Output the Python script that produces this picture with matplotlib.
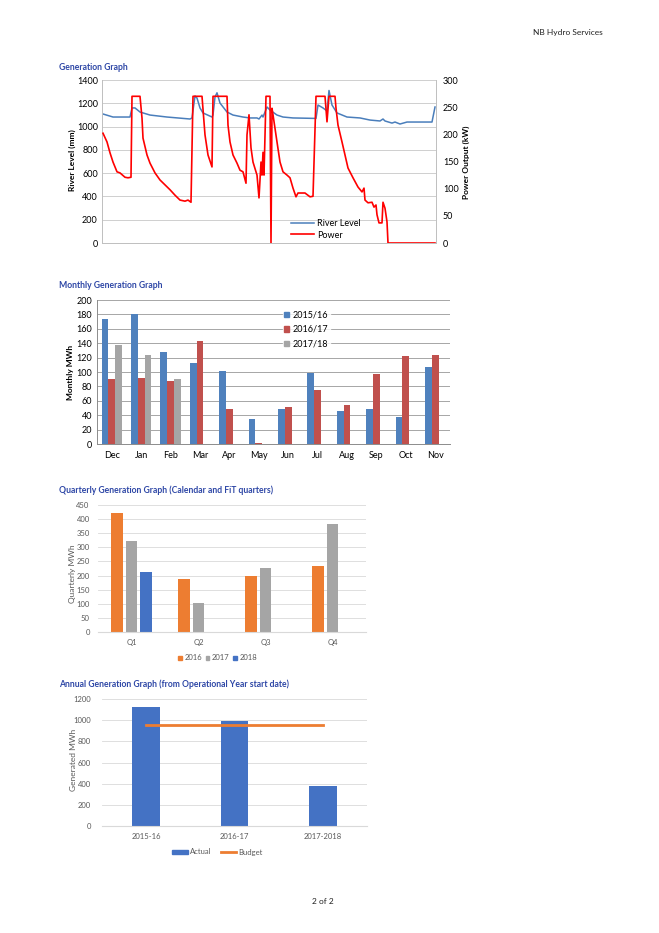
import matplotlib
matplotlib.use('Agg')
import matplotlib.pyplot as plt
import numpy as np
from matplotlib.patches import Patch
from matplotlib.lines import Line2D

W, H = 659, 933
plt.rcParams['font.family'] = ['Lato', 'DejaVu Sans']

# ---------------- data ----------------
# Generation graph (day index, values)
power_day = [1, 5, 8, 11, 15, 18, 23, 26, 29, 30, 38, 40, 41, 45, 48, 53, 58, 63, 68, 73,
             78, 83, 86, 89, 91, 100, 103, 106, 110, 111, 125, 126, 128, 131, 135, 138, 141,
             144, 145, 147, 149, 151, 155, 157, 159, 160, 161, 162, 164, 168, 169, 170, 171,
             175, 178, 181, 185, 188, 191, 194, 196, 203, 208, 211, 214, 223, 225, 227, 233,
             234, 236, 240, 243, 246, 251, 256, 260, 262, 263, 266, 270, 272, 274, 275, 277,
             280, 281, 283, 285, 286, 333]
power_kw = [202, 186, 166, 149, 131, 129, 121, 120, 121, 270, 270, 230, 193, 162, 147, 129,
            116, 107, 98, 88, 79, 77, 79, 75, 270, 270, 199, 162, 140, 270, 270, 217, 186,
            162, 147, 134, 131, 110, 199, 236, 175, 149, 125, 83, 149, 125, 167, 125, 270,
            270, 0, 248, 236, 186, 149, 131, 125, 120, 101, 85, 92, 92, 85, 86, 270, 270, 223,
            270, 270, 248, 217, 186, 162, 138, 120, 103, 94, 101, 79, 74, 75, 66, 70, 52, 37,
            37, 75, 64, 39, 0, 0]
river_day = [1, 11, 28, 30, 33, 38, 48, 65, 88, 90, 93, 95, 98, 101, 110, 111, 113, 115, 118,
             125, 131, 141, 148, 155, 157, 160, 161, 165, 168, 175, 181, 191, 214, 216, 221,
             225, 227, 230, 235, 245, 258, 268, 278, 281, 283, 290, 293, 298, 305, 318, 330, 333]
river_mm = [1108, 1082, 1082, 1160, 1160, 1125, 1099, 1082, 1065, 1074, 1263, 1245, 1160,
            1117, 1082, 1100, 1254, 1290, 1202, 1125, 1099, 1082, 1074, 1074, 1065, 1099,
            1082, 1168, 1142, 1099, 1082, 1074, 1070, 1185, 1160, 1134, 1310, 1185, 1117,
            1082, 1074, 1056, 1048, 1065, 1048, 1030, 1039, 1022, 1039, 1039, 1039, 1168]

# Monthly generation
months = ['Dec', 'Jan', 'Feb', 'Mar', 'Apr', 'May', 'Jun', 'Jul', 'Aug', 'Sep', 'Oct', 'Nov']
m_2015 = [174, 180, 128, 113, 102, 35, 49, 98, 46, 48, 37, 107]
m_2016 = [90, 91, 88, 143, 49, 2, 51, 75, 54, 97, 122, 124]
m_2017 = [137, 123, 90, np.nan, np.nan, np.nan, np.nan, np.nan, np.nan, np.nan, np.nan, np.nan]

# Quarterly generation
quarters = ['Q1', 'Q2', 'Q3', 'Q4']
q_2016 = [420, 188, 200, 234]
q_2017 = [321, 102, 226, 381]
q_2018 = [213, np.nan, np.nan, np.nan]

# Annual generation
years = ['2015-16', '2016-17', '2017-2018']
actual = [1120, 990, 374]
budget = [957, 957, 957]

# ---------------- figure ----------------
fig = plt.figure(figsize=(W/100, H/100), dpi=100)
fig.patch.set_facecolor('white')

def px_axes(x0, x1, y0, y1):
    return fig.add_axes([x0/W, 1 - y1/H, (x1-x0)/W, (y1-y0)/H])

def ftext(x, y, s, **kw):
    fig.text(x/W, 1 - y/H, s, **kw)

TITLE_C = '#2E47A6'
ftext(603, 32, 'NB Hydro Services', ha='right', va='center', fontsize=6, color='#222222')
ftext(323, 902, '2 of 2', ha='center', va='center', fontsize=6, color='#222222')

# ---- Chart 1: Generation Graph ----
ftext(59, 67, 'Generation Graph', ha='left', va='center', fontsize=6.2,
      fontweight='bold', color=TITLE_C)
ax1 = px_axes(102, 436, 80, 243)
ax1.set_xlim(0, 334)
ax1.set_ylim(0, 1400)
ax1.set_yticks(np.arange(0, 1401, 200))
ax1.set_xticks([])
ax1.yaxis.grid(True, color='#C8C8C8', lw=0.6)
ax1.set_axisbelow(True)
ax1.plot(river_day, river_mm, color='#4A7EBB', lw=1.1)
for s in ['left', 'right', 'bottom']:
    ax1.spines[s].set_color('#BFBFBF')
    ax1.spines[s].set_linewidth(0.7)
ax1.spines['top'].set_visible(False)
ax1.tick_params(axis='y', length=0, labelsize=6.5, pad=3)
ax2 = ax1.twinx()
ax2.set_ylim(0, 300)
ax2.set_yticks(np.arange(0, 301, 50))
ax2.plot(power_day, power_kw, color='#FF0000', lw=1.2)
for s in ['left', 'right', 'bottom', 'top']:
    ax2.spines[s].set_visible(False)
ax2.tick_params(axis='y', length=0, labelsize=6.5, pad=5)
ftext(72, 160, 'River Level (mm)', rotation=90, ha='center', va='center',
      fontsize=6, fontweight='bold')
ftext(466, 162, 'Power Output (kW)', rotation=90, ha='center', va='center',
      fontsize=6, fontweight='bold')
fig.legend(handles=[Line2D([], [], color='#4A7EBB', lw=1.1),
                    Line2D([], [], color='#FF0000', lw=1.2)],
           labels=['River Level', 'Power'], loc='center left',
           bbox_to_anchor=(286/W, 1 - 229.5/H), frameon=False, fontsize=6.5,
           handlelength=2.6, labelspacing=0.25, handletextpad=0.3, borderpad=0)

# ---- Chart 2: Monthly Generation Graph ----
ftext(59, 285, 'Monthly Generation Graph', ha='left', va='center', fontsize=6.2,
      fontweight='bold', color=TITLE_C)
axm = px_axes(97, 450, 300, 444)
x = np.arange(len(months))
bw = 0.23
c1, c2, c3 = '#4F81BD', '#C0504D', '#A5A5A5'
axm.bar(x - bw, m_2015, bw, color=c1, label='2015/16')
axm.bar(x, m_2016, bw, color=c2, label='2016/17')
axm.bar(x + bw, m_2017, bw, color=c3, label='2017/18')
axm.set_xlim(-0.5, 11.5)
axm.set_ylim(0, 200)
axm.set_yticks(np.arange(0, 201, 20))
axm.set_xticks(x)
axm.set_xticklabels(months)
axm.yaxis.grid(True, color='#A6A6A6', lw=0.7)
axm.set_axisbelow(True)
for s in ['top', 'right']:
    axm.spines[s].set_visible(False)
for s in ['left', 'bottom']:
    axm.spines[s].set_color('#8C8C8C')
    axm.spines[s].set_linewidth(0.7)
axm.tick_params(axis='both', length=0, labelsize=6.5)
axm.tick_params(axis='x', pad=5)
ftext(70, 372, 'Monthly MWh', rotation=90, ha='center', va='center',
      fontsize=6, fontweight='bold')
leg = fig.legend(handles=[Patch(color=c1), Patch(color=c2), Patch(color=c3)],
                 labels=['2015/16', '2016/17', '2017/18'], loc='center left',
                 bbox_to_anchor=(278/W, 1 - 329.5/H), frameon=True, fontsize=6.5,
                 handlelength=0.55, handleheight=0.55, labelspacing=0.6,
                 handletextpad=0.35, borderpad=0.2, fancybox=False)
leg.get_frame().set_facecolor('white')
leg.get_frame().set_edgecolor('white')

# ---- Chart 3: Quarterly Generation Graph ----
ftext(59, 490.5, 'Quarterly Generation Graph (Calendar and FiT quarters)', ha='left',
      va='center', fontsize=6.2, fontweight='bold', color=TITLE_C)
axq = px_axes(98, 366, 505, 632)
xq = np.arange(len(quarters))
qw = 0.173
qs = 0.218
o1, o2, o3 = '#ED7D31', '#A5A5A5', '#4472C4'
axq.bar(xq - qs, q_2016, qw, color=o1)
axq.bar(xq, q_2017, qw, color=o2)
axq.bar(xq + qs, q_2018, qw, color=o3)
axq.set_xlim(-0.5, 3.5)
axq.set_ylim(0, 450)
axq.set_yticks(np.arange(0, 451, 50))
axq.set_xticks(xq)
axq.set_xticklabels(quarters)
axq.yaxis.grid(True, color='#D9D9D9', lw=0.6)
axq.set_axisbelow(True)
for s in ['top', 'right', 'left']:
    axq.spines[s].set_visible(False)
axq.spines['bottom'].set_color('#D9D9D9')
axq.tick_params(axis='both', length=0, labelsize=5.5, labelcolor='#595959')
axq.tick_params(axis='x', pad=5)
axq.tick_params(axis='y', pad=6)
ftext(72, 574, 'Quarterly MWh', rotation=90, ha='center', va='center',
      fontsize=6, color='#595959')
fig.legend(handles=[Patch(color=o1), Patch(color=o2), Patch(color=o3)],
           labels=['2016', '2017', '2018'], loc='center',
           bbox_to_anchor=(217.5/W, 1 - 658/H), ncol=3, frameon=False, fontsize=5.5,
           handlelength=0.5, handleheight=0.5, handletextpad=0.3, columnspacing=0.5,
           labelcolor='#595959')

# ---- Chart 4: Annual Generation Graph ----
ftext(59, 684, 'Annual Generation Graph (from Operational Year start date)', ha='left',
      va='center', fontsize=6.2, fontweight='bold', color=TITLE_C)
axa = px_axes(102, 367, 699, 826)
xa = np.arange(len(years))
axa.bar(xa, actual, 0.31, color='#4472C4', label='Actual')
axa.plot(xa, budget, color='#ED7D31', lw=2.0, label='Budget')
axa.set_xlim(-0.5, 2.5)
axa.set_ylim(0, 1200)
axa.set_yticks(np.arange(0, 1201, 200))
axa.set_xticks(xa)
axa.set_xticklabels(years)
axa.yaxis.grid(True, color='#D9D9D9', lw=0.6)
axa.set_axisbelow(True)
for s in ['top', 'right', 'left']:
    axa.spines[s].set_visible(False)
axa.spines['bottom'].set_color('#D9D9D9')
axa.tick_params(axis='both', length=0, labelsize=5.5, labelcolor='#595959')
axa.tick_params(axis='x', pad=5)
axa.tick_params(axis='y', pad=8)
ftext(73, 760, 'Generated MWh', rotation=90, ha='center', va='center',
      fontsize=6, color='#595959')
fig.legend(handles=[Patch(color='#4472C4'), Line2D([], [], color='#ED7D31', lw=2.0)],
           labels=['Actual', 'Budget'], loc='center',
           bbox_to_anchor=(217.5/W, 1 - 852/H), ncol=2, frameon=False, fontsize=5.5,
           handlelength=2.0, handleheight=0.45, handletextpad=0.3, columnspacing=1.2,
           labelcolor='#595959')

fig.savefig('out.png', dpi=100, facecolor='white')
